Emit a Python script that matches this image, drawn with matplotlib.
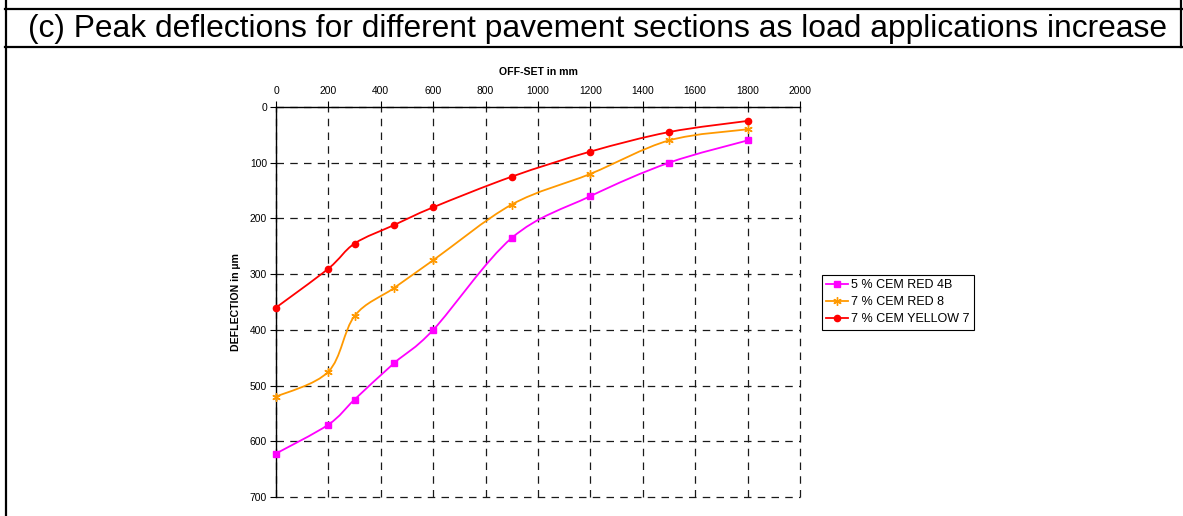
import numpy as np
import matplotlib.pyplot as plt
from matplotlib.path import Path
from matplotlib.patches import PathPatch
from matplotlib.lines import Line2D

plt.rcParams['font.family'] = ['Liberation Sans', 'DejaVu Sans']

# offsets from the load centre (mm) and peak deflections (micron)
offset = [0, 200, 300, 450, 600, 900, 1200, 1500, 1800]
red_4b = [622, 570, 525, 460, 400, 235, 160, 100, 60]
red_8 = [520, 475, 375, 325, 275, 175, 120, 60, 40]
yellow_7 = [360, 290, 245, 212, 180, 125, 80, 45, 25]

labels = ['5 % CEM RED 4B', '7 % CEM RED 8', '7 % CEM YELLOW 7']
colors = ['#FF00FF', '#FF9900', '#FF0000']
markers = ['s', (6, 2, 0), 'o']
msizes = [5, 6, 4.5]


def smooth_path(x, y):
    # Catmull-Rom style bezier through the points (spreadsheet "smoothed line")
    p = np.column_stack([x, y]).astype(float)
    ext = np.vstack([p[0], p, p[-1]])
    verts = [p[0]]
    codes = [Path.MOVETO]
    for i in range(1, len(ext) - 2):
        p0, p1, p2, p3 = ext[i - 1], ext[i], ext[i + 1], ext[i + 2]
        c1 = p1 + (p2 - p0) / 6
        c2 = p2 - (p3 - p1) / 6
        verts += [c1, c2, p2]
        codes += [Path.CURVE4] * 3
    return Path(verts, codes)


fig = plt.figure(figsize=(11.83, 5.16), dpi=100)
ax = fig.add_axes([276 / 1183, 1 - 497 / 516, 524 / 1183, 390 / 516])

handles = []
for ys, c, m, ms, lab in zip([red_4b, red_8, yellow_7], colors, markers, msizes, labels):
    ax.add_patch(PathPatch(smooth_path(offset, ys), fill=False, edgecolor=c, lw=1.3,
                           zorder=3, clip_on=False))
    ax.plot(offset, ys, ls='none', marker=m, ms=ms, color=c, mec=c, mew=1, zorder=4,
            clip_on=False)
    handles.append(Line2D([], [], color=c, lw=1.3, marker=m, ms=ms, mec=c, label=lab))

ax.set_xlim(0, 2000)
ax.set_ylim(700, 0)
ax.set_xticks(np.arange(0, 2001, 200))
ax.set_yticks(np.arange(0, 701, 100))
ax.xaxis.tick_top()
ax.xaxis.set_label_position('top')
ax.tick_params(axis='both', labelsize=7.4, direction='out', length=4, width=0.8, pad=2.5)
ax.tick_params(axis='x', pad=4)
ax.set_xlabel('OFF-SET in mm', fontsize=7.6, fontweight='bold', labelpad=8)
ax.set_ylabel('DEFLECTION in µm', fontsize=7.6, fontweight='bold', labelpad=6)

for s in ['right', 'bottom']:
    ax.spines[s].set_visible(False)
for s in ['top', 'left']:
    ax.spines[s].set_linewidth(1.0)
ax.grid(True, color='#1a1a1a', lw=0.9, dashes=(6, 5))
ax.set_axisbelow(True)
for gl in ax.get_xgridlines() + ax.get_ygridlines():
    gl.set_clip_on(False)

leg = fig.legend(handles=handles, loc='upper left', bbox_to_anchor=(822 / 1183, 1 - 275 / 516),
                 bbox_transform=fig.transFigure, borderaxespad=0, fontsize=9, fancybox=False,
                 edgecolor='black', framealpha=1, handlelength=1.75, handletextpad=0.2,
                 borderpad=0.35, labelspacing=0.4)
leg.get_frame().set_linewidth(0.8)

# table frame around the panel
for xs, ys in [((5 / 1183, 1), (1 - 9 / 516, 1 - 9 / 516)),
               ((5 / 1183, 1), (1 - 47 / 516, 1 - 47 / 516)),
               ((6 / 1183, 6 / 1183), (0, 1)),
               ((1181 / 1183, 1181 / 1183), (1 - 47 / 516, 1))]:
    fig.add_artist(Line2D(xs, ys, color='black', lw=1.6, transform=fig.transFigure))

fig.text(597 / 1183, 1 - 29 / 516, '(c) Peak deflections for different pavement sections as load applications increase',
         ha='center', va='center', fontsize=22.9)

fig.savefig('out.png', dpi=100)
